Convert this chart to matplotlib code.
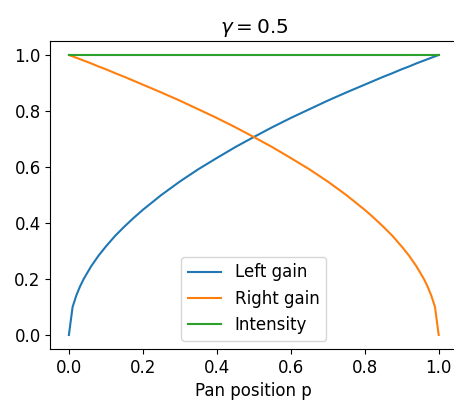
import matplotlib

matplotlib.use("Agg")
import matplotlib.pyplot as plt

# Pan positions and gains
pan = [0.0, 0.01, 0.02, 0.03, 0.04, 0.06, 0.08, 0.1, 0.125, 0.15, 0.175, 0.2,
       0.25, 0.3, 0.35, 0.4, 0.45, 0.5, 0.55, 0.6, 0.65, 0.7, 0.75, 0.8,
       0.825, 0.85, 0.875, 0.9, 0.92, 0.94, 0.96, 0.97, 0.98, 0.99, 1.0]
left_gain = [0.0, 0.100, 0.141, 0.173, 0.200, 0.245, 0.283, 0.316, 0.354, 0.387,
             0.418, 0.447, 0.500, 0.548, 0.592, 0.632, 0.671, 0.707, 0.742, 0.775,
             0.806, 0.837, 0.866, 0.894, 0.908, 0.922, 0.935, 0.949, 0.959, 0.970,
             0.980, 0.985, 0.990, 0.995, 1.0]
right_gain = [1.0, 0.995, 0.990, 0.985, 0.980, 0.970, 0.959, 0.949, 0.935, 0.922,
              0.908, 0.894, 0.866, 0.837, 0.806, 0.775, 0.742, 0.707, 0.671, 0.632,
              0.592, 0.548, 0.500, 0.447, 0.418, 0.387, 0.354, 0.316, 0.283, 0.245,
              0.200, 0.173, 0.141, 0.100, 0.0]
intensity = [1.0] * len(pan)

plt.rcParams["font.size"] = 12

fig = plt.figure(figsize=(4.54, 4.08), dpi=100)
ax = fig.add_axes([0.111, 0.1446, 0.896, 0.755])

ax.plot(pan, left_gain, label="Left gain")
ax.plot(pan, right_gain, label="Right gain")
ax.plot(pan, intensity, label="Intensity")

ax.set_title(r"$\gamma = 0.5$")
ax.set_xlabel("Pan position p")
ax.legend(loc="lower center")

fig.savefig("out.png", dpi=100)
